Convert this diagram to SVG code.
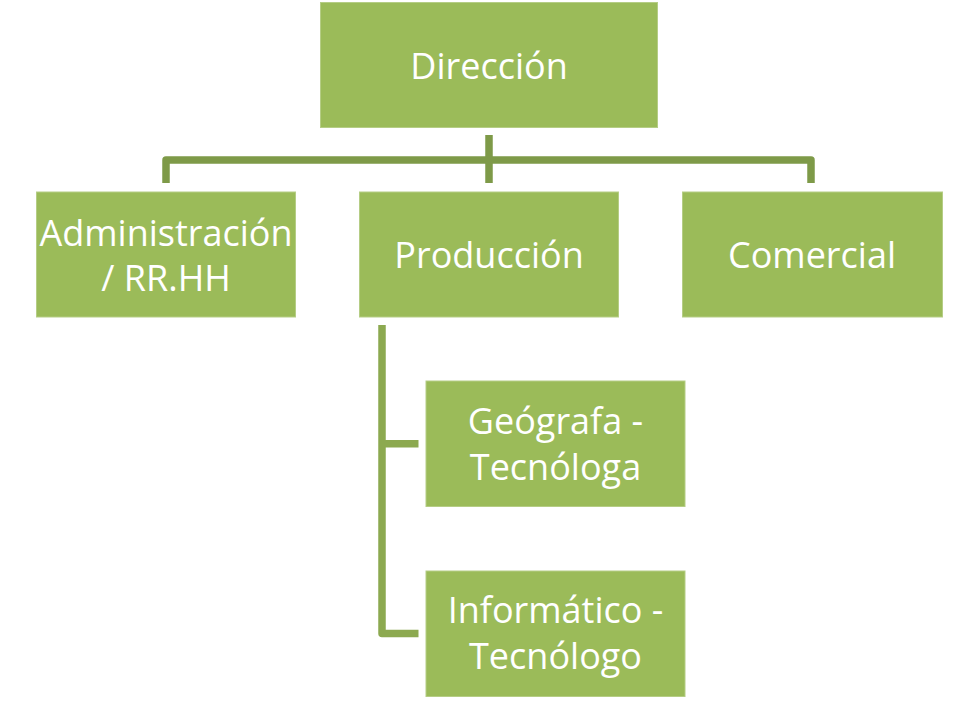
<svg xmlns="http://www.w3.org/2000/svg" width="978" height="725" viewBox="0 0 978 725">
<style>
.box{fill:#9BBB59;stroke:#B5CD85;stroke-width:1}
.t{font-family:"Open Sans","Liberation Sans",sans-serif;font-size:36px;fill:#FFFFFF;text-anchor:middle}
.c1{fill:none;stroke:#7E9A48;stroke-width:7.5;stroke-linejoin:round}
.c2{fill:none;stroke:#8CA950;stroke-width:7.5;stroke-linejoin:round}
</style>
<rect width="978" height="725" fill="#FFFFFF"/>
<g id="connectors">
<path class="c1" d="M489 135V183M166 183V160H811V183"/>
<path class="c2" d="M382 325V633.5H418.5M382 443.7H418.5"/>
</g>
<g id="direccion">
<rect class="box" x="320.5" y="2.5" width="337" height="125"/>
<text class="t" x="489" y="79">Dirección</text>
</g>
<g id="administracion">
<rect class="box" x="36.5" y="192" width="259" height="125"/>
<text class="t" x="166" y="246">Administración</text>
<text class="t" x="166" y="291">/ RR.HH</text>
</g>
<g id="produccion">
<rect class="box" x="359.5" y="192" width="259" height="125"/>
<text class="t" x="489" y="268">Producción</text>
</g>
<g id="comercial">
<rect class="box" x="682.5" y="192" width="260" height="125"/>
<text class="t" x="812" y="268">Comercial</text>
</g>
<g id="geografa">
<rect class="box" x="426" y="381" width="259" height="125.5"/>
<text class="t" x="555.5" y="434">Geógrafa -</text>
<text class="t" x="555.5" y="480">Tecnóloga</text>
</g>
<g id="informatico">
<rect class="box" x="426" y="571" width="259" height="125.5"/>
<text class="t" x="555.5" y="623">Informático -</text>
<text class="t" x="555.5" y="669">Tecnólogo</text>
</g>
</svg>
